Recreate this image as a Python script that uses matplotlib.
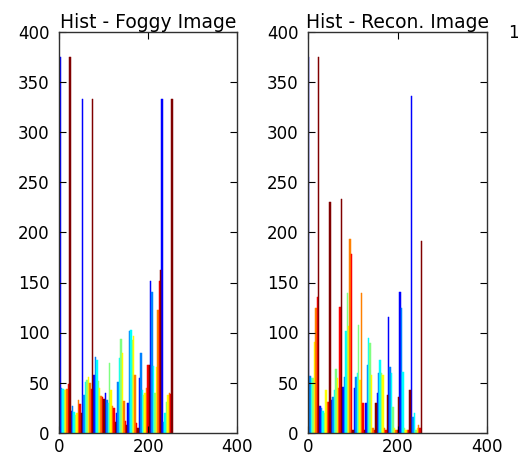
import numpy as np
import matplotlib
matplotlib.use("Agg")
import matplotlib.pyplot as plt

# histogram bins (10 bins over 0..255)
bin_left = [0.0, 25.5, 51.0, 76.5, 102.0, 127.5, 153.0, 178.5, 204.0, 229.5]
bin_width = 25.5

# Foggy image: counts per column-series (8 series, jet colours)
foggy_s1 = [375, 22, 333, 58, 40, 20, 30, 55, 152, 333]
foggy_s2 = [45, 27, 38, 76, 33, 51, 102, 80, 141, 11]
foggy_s3 = [44, 21, 51, 73, 30, 75, 103, 43, 67, 20]
foggy_s4 = [43, 18, 53, 52, 70, 94, 93, 38, 40, 31]
foggy_s5 = [43, 20, 56, 45, 43, 80, 97, 40, 66, 38]
foggy_s6 = [44, 33, 50, 37, 27, 32, 58, 45, 123, 40]
foggy_s7 = [49, 29, 44, 36, 25, 12, 10, 68, 152, 39]
foggy_s8 = [375, 20, 333, 34, 11, 8, 5, 68, 163, 333]

# Reconstructed image
recon_s1 = [375, 27, 33, 46, 45, 30, 40, 116, 141, 336]
recon_s2 = [57, 25, 36, 56, 56, 68, 60, 66, 125, 16]
recon_s3 = [55, 22, 43, 102, 60, 95, 73, 60, 61, 20]
recon_s4 = [55, 20, 64, 140, 108, 90, 60, 26, 5, 3]
recon_s5 = [91, 43, 55, 107, 53, 58, 58, 5, 3, 5]
recon_s6 = [125, 31, 45, 193, 140, 5, 5, 3, 3, 8]
recon_s7 = [136, 31, 126, 178, 30, 3, 3, 3, 3, 5]
recon_s8 = [375, 230, 233, 3, 3, 30, 38, 36, 43, 191]

titles = ["Hist - Foggy Image", "Hist - Recon. Image"]
xticks = [0, 200, 400]
yticks = [0, 50, 100, 150, 200, 250, 300, 350, 400]

# MATLAB jet(8)
jet8 = [(0, 0, 1), (0, 0.5, 1), (0, 1, 1), (0.5, 1, 0.5),
        (1, 1, 0), (1, 0.5, 0), (1, 0, 0), (0.5, 0, 0)]

plt.rcParams['font.family'] = ['DejaVu Sans']

W, H = 518, 458
fig = plt.figure(figsize=(W / 100, H / 100), dpi=100)

axes_px = [(59.3, 32.5, 237.3, 432.5), (308.0, 32.5, 487.3, 432.5)]
datasets = [
    [foggy_s1, foggy_s2, foggy_s3, foggy_s4, foggy_s5, foggy_s6, foggy_s7, foggy_s8],
    [recon_s1, recon_s2, recon_s3, recon_s4, recon_s5, recon_s6, recon_s7, recon_s8],
]

for (x0, y0, x1, y1), series, title in zip(axes_px, datasets, titles):
    ax = fig.add_axes([x0 / W, 1 - y1 / H, (x1 - x0) / W, (y1 - y0) / H])
    n = len(series)
    bw = bin_width / n
    left = np.array(bin_left)
    for j, vals in enumerate(series):
        ax.bar(left + j * bw, vals, width=bw, align='edge',
               color=jet8[j], edgecolor=jet8[j], linewidth=0.35)
    ax.set_xlim(0, 400)
    ax.set_ylim(0, 400)
    ax.set_xticks(xticks)
    ax.set_yticks(yticks)
    ax.tick_params(direction='in', length=5, width=0.8, top=True, right=True,
                   labelsize=12, pad=7, colors='black')
    ax.tick_params(axis='x', pad=4)
    for s in ax.spines.values():
        s.set_linewidth(1.0)
        s.set_color('#303030')
    ax.set_title(title, fontsize=13.5, pad=3)

fig.text(508 / W, 1 - 33 / H, "1", fontsize=12, va='center', ha='left')

fig.savefig("out.png", dpi=100)
